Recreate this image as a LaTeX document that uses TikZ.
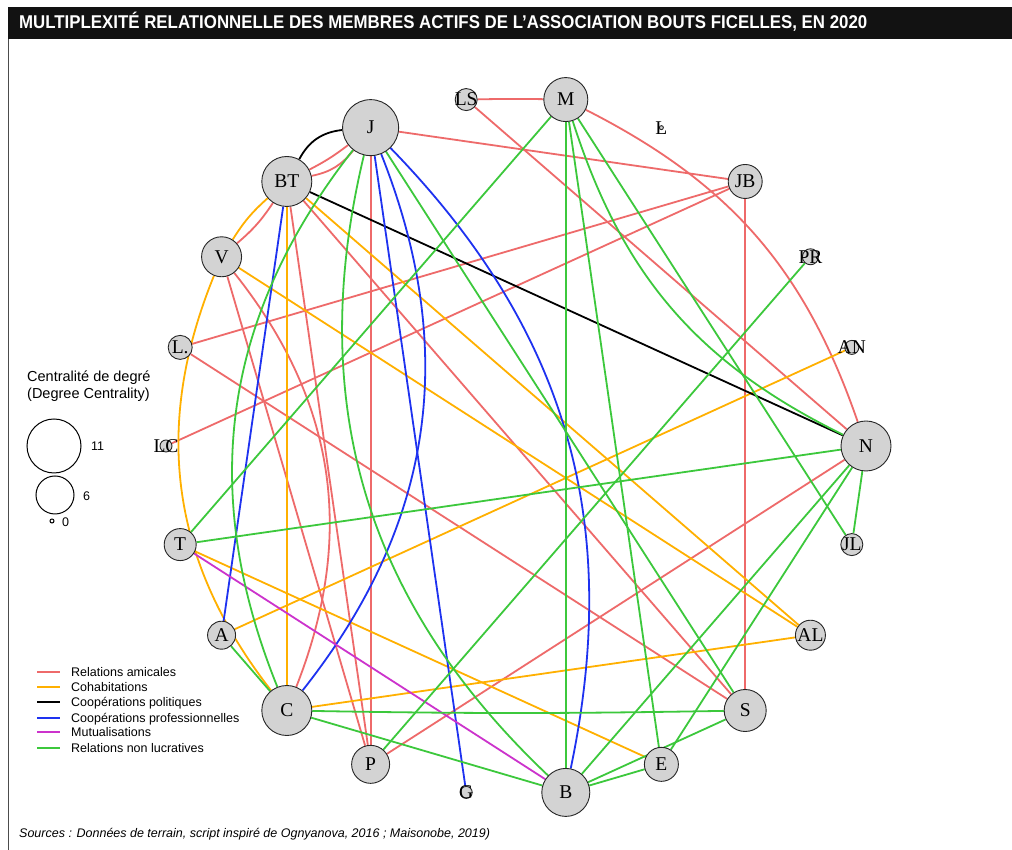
\documentclass[tikz,border=0pt]{standalone}
\usepackage{fontspec}
\setmainfont{Liberation Sans}
\newfontfamily\serifnode{Liberation Serif}
\usetikzlibrary{calc}
\definecolor{cami}{HTML}{EE6A6A}
\definecolor{ccoh}{HTML}{FFB000}
\definecolor{cpol}{HTML}{000000}
\definecolor{cpro}{HTML}{1E32F0}
\definecolor{cmut}{HTML}{CC33CC}
\definecolor{cnl}{HTML}{3CC83C}
\definecolor{vfill}{HTML}{D3D3D3}
\pgfdeclarelayer{bg}
\pgfsetlayers{bg,main}
\begin{document}
\begin{tikzpicture}[x=1pt,y=1pt,
  vtx/.style={circle,draw=black!85,line width=0.9pt,fill=vfill,inner sep=0pt},
  lbl/.style={font=\serifnode\fontsize{19.5}{21}\selectfont,inner sep=0pt},
  edg/.style={line width=1.8pt},
  ami/.style={edg,draw=cami},
  coh/.style={edg,draw=ccoh},
  pol/.style={edg,draw=cpol},
  pro/.style={edg,draw=cpro},
  mut/.style={edg,draw=cmut},
  nl/.style={edg,draw=cnl},
  legtxt/.style={anchor=base west,inner sep=0pt,font=\fontsize{12.5}{14}\selectfont},
  legline/.style={line width=1.5pt},
  legcirc/.style={circle,draw=black,line width=1pt,inner sep=0pt}
]
\useasboundingbox (0,0) rectangle (1012,850);
% frame and title
\fill[black!93] (8,811) rectangle (1012,843);
\draw[black!70,line width=0.8pt] (8,0) -- (8,811);
\node[anchor=base west,text=white,inner sep=0pt,font=\bfseries\fontsize{18.5}{20}\selectfont] (title) at (19,821)
  {\resizebox{848pt}{\height}{MULTIPLEXITÉ RELATIONNELLE DES MEMBRES ACTIFS DE L'ASSOCIATION BOUTS FICELLES, EN 2020}};

% vertices on the circle
\begin{scope}[shift={(516,404)}]
\node[vtx,minimum size=50pt] (N)  at (0:350) {};
\node[vtx,minimum size=14pt] (AN) at (16.3636:350) {};
\node[vtx,minimum size=16pt] (PR) at (32.7273:350) {};
\node[vtx,minimum size=34pt] (JB) at (49.0909:350) {};
\node[vtx,minimum size=4pt]  (Lz) at (65.4545:350) {};
\node[vtx,minimum size=44pt] (M)  at (81.8182:350) {};
\node[vtx,minimum size=22pt] (LS) at (98.1818:350) {};
\node[vtx,minimum size=56pt] (J)  at (114.5455:350) {};
\node[vtx,minimum size=50pt] (BT) at (130.9091:350) {};
\node[vtx,minimum size=40pt] (V)  at (147.2727:350) {};
\node[vtx,minimum size=24pt] (Ld) at (163.6364:350) {};
\node[vtx,minimum size=12pt] (LC) at (180:350) {};
\node[vtx,minimum size=32pt] (T)  at (196.3636:350) {};
\node[vtx,minimum size=28pt] (A)  at (212.7273:350) {};
\node[vtx,minimum size=50pt] (C)  at (229.0909:350) {};
\node[vtx,minimum size=38pt] (P)  at (245.4545:350) {};
\node[vtx,minimum size=12pt] (G)  at (261.8182:350) {};
\node[vtx,minimum size=48pt] (B)  at (278.1818:350) {};
\node[vtx,minimum size=34pt] (E)  at (294.5455:350) {};
\node[vtx,minimum size=42pt] (S)  at (310.9091:350) {};
\node[vtx,minimum size=30pt] (AL) at (327.2727:350) {};
\node[vtx,minimum size=22pt] (JL) at (343.6364:350) {};
\end{scope}
\foreach \n/\t in {N/N,AN/AN,PR/PR,JB/JB,Lz/L,M/M,LS/LS,J/J,BT/BT,V/V,Ld/L.,LC/LC,T/T,A/A,C/C,P/P,G/G,B/B,E/E,S/S,AL/AL,JL/JL}
  \node[lbl] at (\n) {\t};

% edges
\begin{pgfonlayer}{bg}
\fill[white] (0,0) rectangle (1012,850);
% relations amicales
\draw[ami] (LS) to[bend left=1] (M);
\draw[ami] (LS) -- (N);
\draw[ami] (M) to[bend left=22] (N);
\draw[ami] (J) -- (JB);
\draw[ami] (JB) -- (Ld);
\draw[ami] (JB) -- (LC);
\draw[ami] (JB) -- (S);
\draw[ami] (Ld) -- (S);
\draw[ami] (BT) to[bend right=5] (J);
\draw[ami] (BT) to[bend right=20] (J);
\draw[ami] (BT) to[bend left=8] (V);
\draw[ami] (BT) -- (P);
\draw[ami] (BT) -- (S);
\draw[ami] (V) -- (P);
\draw[ami] (V) to[bend left=30] (C);
\draw[ami] (J) -- (P);
\draw[ami] (N) -- (P);
% cohabitations
\draw[coh] (BT) to[bend right=8] (V);
\draw[coh] (V) to[bend right=30] (C);
\draw[coh] (BT) -- (C);
\draw[coh] (BT) -- (AL);
\draw[coh] (V) -- (AL);
\draw[coh] (A) -- (AN);
\draw[coh] (T) -- (E);
\draw[coh] (C) -- (AL);
% cooperations politiques
\draw[pol] (BT) to[bend left=28] (J);
\draw[pol] (BT) -- (N);
% cooperations professionnelles
\draw[pro] (BT) -- (A);
\draw[pro] (J) to[bend left=30] (C);
\draw[pro] (J) -- (G);
\draw[pro] (J) to[bend left=28] (B);
% mutualisations
\draw[mut] (T) -- (B);
% relations non lucratives
\draw[nl] (M) to[bend right=23] (N);
\draw[nl] (M) -- (T);
\draw[nl] (M) -- (B);
\draw[nl] (M) -- (E);
\draw[nl] (M) -- (JL);
\draw[nl] (J) to[bend right=30] (C);
\draw[nl] (J) to[bend right=30] (B);
\draw[nl] (J) -- (S);
\draw[nl] (PR) -- (P);
\draw[nl] (T) -- (N);
\draw[nl] (A) -- (C);
\draw[nl] (C) to[bend right=1] (S);
\draw[nl] (C) -- (B);
\draw[nl] (N) -- (B);
\draw[nl] (N) -- (E);
\draw[nl] (N) -- (JL);
\draw[nl] (B) -- (E);
\draw[nl] (B) -- (S);
\end{pgfonlayer}

% size legend
\node[legtxt,font=\fontsize{14.5}{16}\selectfont] (lt1) at (27,468) {Centralité de degré};
\node[legtxt,font=\fontsize{14.5}{16}\selectfont] (lt2) at (27,451) {(Degree Centrality)};
\node[legcirc,minimum size=54pt] (c11) at (54,404) {};
\node[legcirc,minimum size=38pt] (c6) at (55,355) {};
\node[legcirc,minimum size=4pt] (c0) at (52,329) {};
\node[anchor=west,inner sep=0pt,font=\fontsize{12.5}{14}\selectfont] (n11) at (91,404) {11};
\node[anchor=west,inner sep=0pt,font=\fontsize{12.5}{14}\selectfont] (n6) at (83,354) {6};
\node[anchor=west,inner sep=0pt,font=\fontsize{12.5}{14}\selectfont] (n0) at (62,328) {0};

% edge legend
\foreach \y/\s/\t in {178/ami/Relations amicales,163/coh/Cohabitations,148/pol/Coopérations politiques,132/pro/Coopérations professionnelles,118/mut/Mutualisations,102/nl/Relations non lucratives}{
  \coordinate (la\y) at (37,\y);
  \coordinate (lb\y) at (60,\y);
  \draw[\s,legline] (la\y) -- (lb\y);
  \node[legtxt] at (71,\y-4.3) {\t};
}

% source
\node[anchor=base west,inner sep=0pt,font=\itshape\fontsize{12.5}{14}\selectfont] (src) at (19,12)
  {Sources : Données de terrain, script inspiré de Ognyanova, 2016 ; Maisonobe, 2019)};
\end{tikzpicture}
\end{document}
